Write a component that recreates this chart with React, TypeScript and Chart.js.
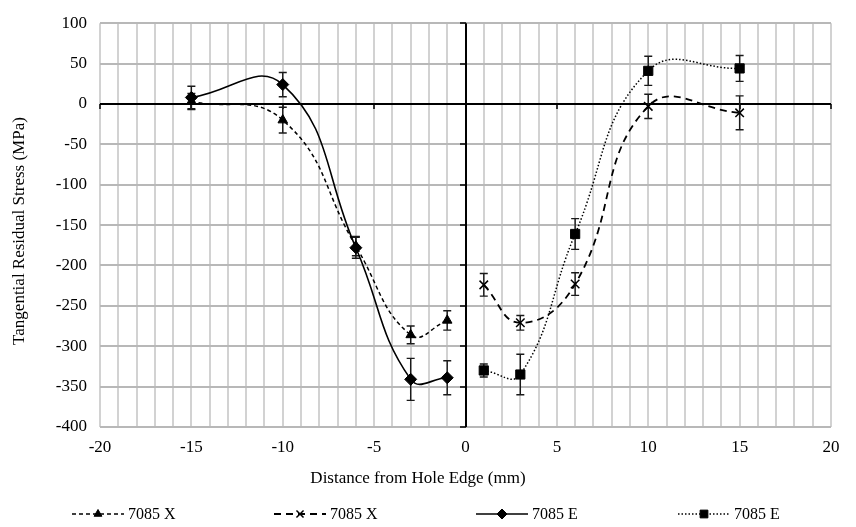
import React, { useEffect, useRef } from 'react';
import { Chart, registerables } from 'chart.js';
import { drawPoint } from 'chart.js/helpers';

Chart.register(...registerables);

// Measurement positions (mm from the hole edge)
const xNeg = [-15, -10, -6, -3, -1];
const xPos = [1, 3, 6, 10, 15];

// Tangential residual stress (MPa) and error half-widths
const stressXTri = [3, -20, -176, -286, -268];
const errXTri = [10, 16, 12, 11, 12];
const stressXCross = [-224, -271, -223, -3, -11];
const errXCross = [14, 9, 14, 15, 21];
const stressEDiamond = [8, 24, -178, -341, -339];
const errEDiamond = [14, 15, 13, 26, 21];
const stressESquare = [-330, -335, -161, 41, 44];
const errESquare = [8, 25, 19, 18, 16];

const seriesLabels = ['7085 X', '7085 X', '7085 E', '7085 E'];
const xTicks = { min: -20, max: 20, step: 1, labelEvery: 5 };
const yTicks = { min: -400, max: 100, step: 50 };
const xTitle = 'Distance from Hole Edge (mm)';
const yTitle = 'Tangential Residual Stress (MPa)';

const FONT = "'Liberation Serif', 'Times New Roman', serif";
const INK = '#000000';

const toPoints = (xs: number[], ys: number[]) => xs.map((x, i) => ({ x, y: ys[i] }));

// Black zero axes with small tick marks
const zeroAxes = {
  id: 'zeroAxes',
  beforeDatasetsDraw(chart: any) {
    const { ctx, chartArea, scales } = chart;
    const xs = scales.x;
    const ys = scales.y;
    const x0 = Math.round(xs.getPixelForValue(0));
    const y0 = Math.round(ys.getPixelForValue(0));
    ctx.save();
    ctx.strokeStyle = INK;
    ctx.lineWidth = 2;
    ctx.beginPath();
    ctx.moveTo(chartArea.left, y0);
    ctx.lineTo(chartArea.right, y0);
    ctx.moveTo(x0, chartArea.top);
    ctx.lineTo(x0, chartArea.bottom);
    ctx.stroke();
    ctx.lineWidth = 1.5;
    ctx.beginPath();
    xs.ticks.forEach((t: any) => {
      if (t.value % xTicks.labelEvery === 0 && t.value !== 0) {
        const px = Math.round(xs.getPixelForValue(t.value));
        ctx.moveTo(px, y0);
        ctx.lineTo(px, y0 + 5);
      }
    });
    ys.ticks.forEach((t: any) => {
      const py = Math.round(ys.getPixelForValue(t.value));
      ctx.moveTo(x0, py);
      ctx.lineTo(x0 - 6, py);
    });
    ctx.stroke();
    ctx.restore();
  },
};

// Vertical error bars with caps
const errorBars = {
  id: 'errorBars',
  beforeDatasetsDraw(chart: any) {
    const { ctx } = chart;
    const ys = chart.scales.y;
    chart.data.datasets.forEach((ds: any, i: number) => {
      const meta = chart.getDatasetMeta(i);
      ctx.save();
      ctx.strokeStyle = '#1a1a1a';
      ctx.lineWidth = 1.4;
      ctx.beginPath();
      meta.data.forEach((pt: any, j: number) => {
        const v = ds.data[j].y;
        const e = ds.errors[j];
        const top = ys.getPixelForValue(v + e);
        const bot = ys.getPixelForValue(v - e);
        const px = pt.x;
        ctx.moveTo(px, top);
        ctx.lineTo(px, bot);
        ctx.moveTo(px - 4, top);
        ctx.lineTo(px + 4, top);
        ctx.moveTo(px - 4, bot);
        ctx.lineTo(px + 4, bot);
      });
      ctx.stroke();
      ctx.restore();
    });
  },
};

// Axis titles, placed relative to the whole chart
const axisTitles = {
  id: 'axisTitles',
  afterDraw(chart: any) {
    const { ctx } = chart;
    ctx.save();
    ctx.fillStyle = INK;
    ctx.font = `17px ${FONT}`;
    ctx.textAlign = 'center';
    ctx.textBaseline = 'middle';
    ctx.fillText(xTitle, 418, 479);
    ctx.translate(20, 231);
    ctx.rotate(-Math.PI / 2);
    ctx.fillText(yTitle, 0, 0);
    ctx.restore();
  },
};

// Legend row: line sample with marker, then label
const lineLegend = {
  id: 'lineLegend',
  afterDraw(chart: any) {
    const { ctx } = chart;
    const y = 514;
    const startX = 72;
    const slot = 202;
    const sample = 52;
    ctx.save();
    ctx.font = `16px ${FONT}`;
    ctx.textBaseline = 'middle';
    ctx.textAlign = 'left';
    chart.data.datasets.forEach((ds: any, i: number) => {
      const x = startX + slot * i;
      ctx.save();
      ctx.strokeStyle = INK;
      ctx.lineWidth = ds.borderWidth;
      ctx.setLineDash(ds.borderDash || []);
      ctx.beginPath();
      ctx.moveTo(x, y);
      ctx.lineTo(x + sample, y);
      ctx.stroke();
      ctx.restore();
      ctx.save();
      ctx.fillStyle = INK;
      ctx.strokeStyle = INK;
      ctx.lineWidth = ds.pointBorderWidth || 1;
      drawPoint(ctx, { pointStyle: ds.pointStyle, radius: ds.legendRadius, borderWidth: ds.pointBorderWidth || 1, rotation: 0 } as any, x + sample / 2, y);
      ctx.restore();
      ctx.fillStyle = INK;
      ctx.fillText(ds.label, x + sample + 4, y + 1);
    });
    ctx.restore();
  },
};

export default function App() {
  const canvasRef = useRef<HTMLCanvasElement | null>(null);

  useEffect(() => {
    const canvas = canvasRef.current;
    if (!canvas) return;

    const common = {
      showLine: true,
      borderColor: INK,
      backgroundColor: INK,
      pointBackgroundColor: INK,
      pointBorderColor: INK,
      tension: 0.45,
      fill: false,
    };

    const chart = new Chart(canvas, {
      type: 'scatter',
      data: {
        datasets: [
          {
            ...common,
            label: seriesLabels[0],
            data: toPoints(xNeg, stressXTri),
            errors: errXTri,
            borderWidth: 1.5,
            borderDash: [4, 3],
            pointStyle: 'triangle',
            pointRadius: 5.5,
            pointBorderWidth: 1,
            legendRadius: 4.5,
          } as any,
          {
            ...common,
            label: seriesLabels[1],
            data: toPoints(xPos, stressXCross),
            errors: errXCross,
            borderWidth: 1.8,
            borderDash: [7, 5],
            pointStyle: 'crossRot',
            pointRadius: 6,
            pointBorderWidth: 1.5,
            legendRadius: 5,
          } as any,
          {
            ...common,
            label: seriesLabels[2],
            data: toPoints(xNeg, stressEDiamond),
            errors: errEDiamond,
            borderWidth: 1.6,
            borderDash: [],
            pointStyle: 'rectRot',
            pointRadius: 6,
            pointBorderWidth: 1,
            legendRadius: 5,
          } as any,
          {
            ...common,
            label: seriesLabels[3],
            data: toPoints(xPos, stressESquare),
            errors: errESquare,
            borderWidth: 1.5,
            borderDash: [1.5, 2],
            pointStyle: 'rect',
            pointRadius: 6.5,
            pointBorderWidth: 1,
            legendRadius: 5.5,
          } as any,
        ],
      },
      options: {
        responsive: false,
        animation: false,
        devicePixelRatio: 1,
        layout: { padding: { left: 0, right: 25, top: 17, bottom: 37 } },
        plugins: {
          legend: { display: false },
          tooltip: { enabled: false },
        },
        scales: {
          x: {
            type: 'linear',
            min: xTicks.min,
            max: xTicks.max,
            afterFit(scale: any) {
              scale.height = 63;
            },
            border: { display: false },
            grid: {
              color: '#d2d2d2',
              lineWidth: 2,
              drawTicks: false,
            },
            ticks: {
              stepSize: xTicks.step,
              autoSkip: false,
              maxRotation: 0,
              padding: 10,
              color: INK,
              font: { family: FONT, size: 17 },
              callback: (v: any) => (Number(v) % xTicks.labelEvery === 0 ? String(v) : ''),
            },
          },
          y: {
            type: 'linear',
            min: yTicks.min,
            max: yTicks.max,
            afterFit(scale: any) {
              scale.width = 100;
            },
            border: { display: false },
            grid: {
              color: '#b8b8b8',
              lineWidth: 2,
              drawTicks: false,
            },
            ticks: {
              stepSize: yTicks.step,
              padding: 13,
              color: INK,
              font: { family: FONT, size: 17 },
            },
          },
        },
      } as any,
      plugins: [zeroAxes, errorBars, axisTitles, lineLegend],
    });

    return () => chart.destroy();
  }, []);

  return (
    <div style={{ position: 'absolute', left: 0, top: 0, width: 856, height: 527, background: '#fff' }}>
      <canvas ref={canvasRef} width={856} height={527} style={{ display: 'block' }} />
    </div>
  );
}
